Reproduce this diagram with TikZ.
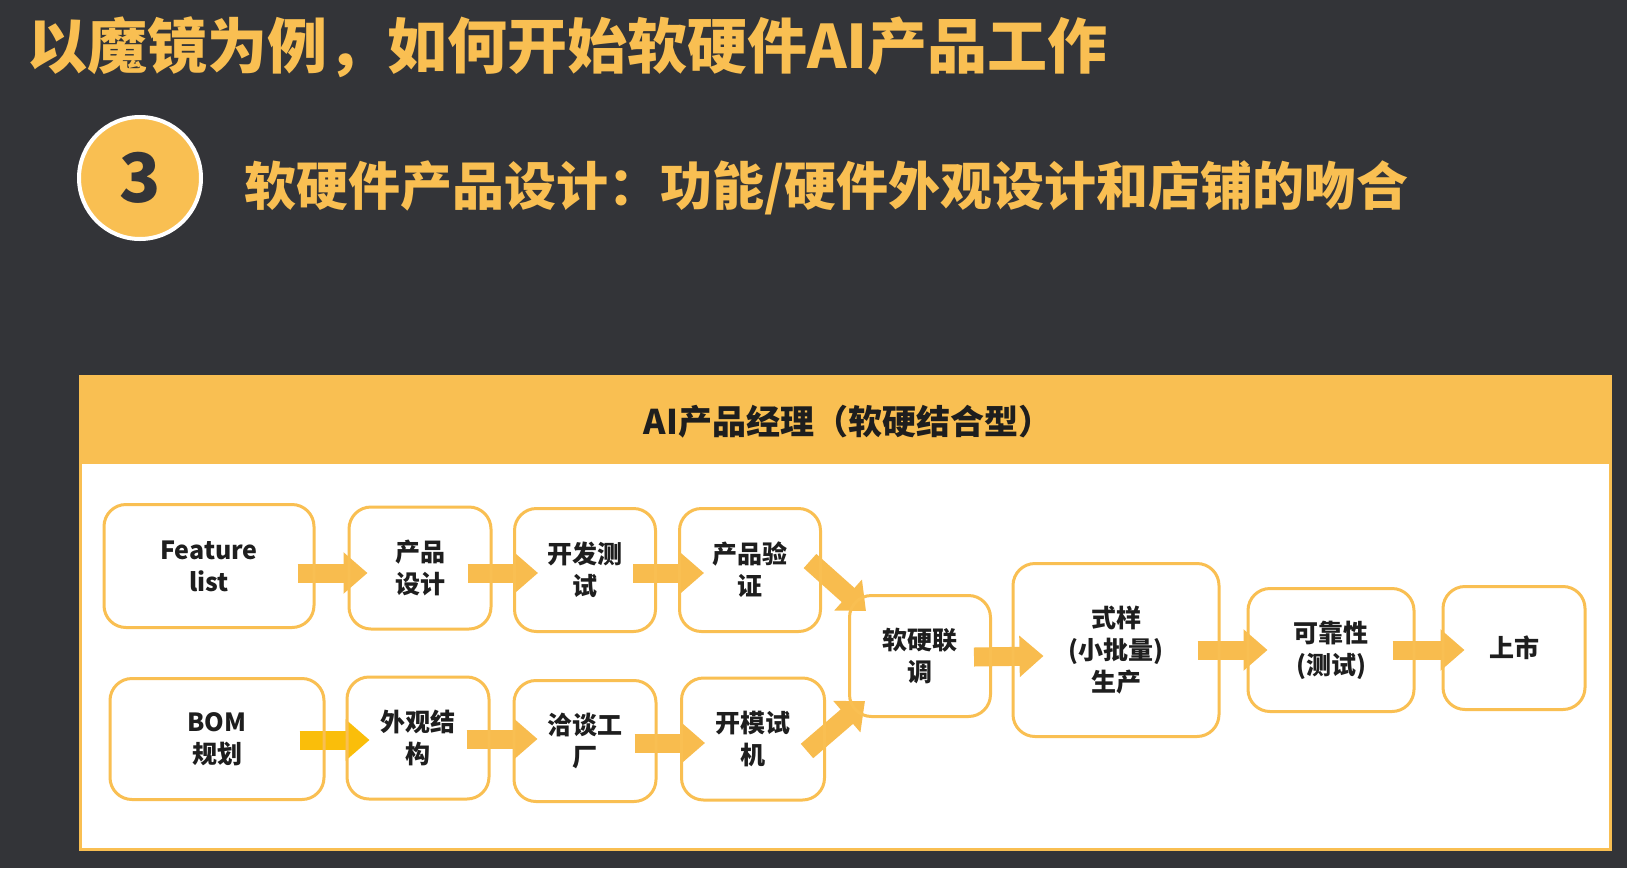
\documentclass[tikz,border=0pt]{standalone}
\usepackage{fontspec}
\setmainfont{Noto Sans CJK SC}
\usetikzlibrary{arrows.meta,calc}
\pgfdeclarelayer{bg}
\pgfsetlayers{bg,main}
\definecolor{slate}{HTML}{333438}
\definecolor{gold}{HTML}{F9BF52}
\definecolor{flowgold}{HTML}{F8BC4E}
\definecolor{bomgold}{HTML}{FABE0A}
\definecolor{ink}{HTML}{1E1E1E}
\tikzset{
  stage/.style={draw=gold, line width=3pt, rounded corners=22pt, align=center, text=ink,
    inner sep=0pt, font=\fontsize{25}{32}\selectfont\bfseries},
  flow/.style={flowgold, line width=19pt, -{Triangle[length=24pt,width=40pt]}},
}

\begin{document}
\begin{tikzpicture}[x=1pt,y=-1pt]
\begin{pgfonlayer}{bg}
\fill[slate] (0,0) rectangle (1627,868);
% panel
\draw[gold, line width=3pt, fill=white] (80,376) rectangle (1610,849);
\fill[gold] (80,376) rectangle (1610,464);
\end{pgfonlayer}
\useasboundingbox (0,0) rectangle (1627,868);

% headings
\node[anchor=west, inner sep=0pt, text=gold, font=\fontsize{60}{60}\selectfont\bfseries] (title) at (27,47) {以魔镜为例，如何开始软硬件AI产品工作};
\node[circle, draw=white, line width=4pt, fill=gold, minimum size=122pt, inner sep=0pt, text=slate,
  font=\fontsize{68}{68}\selectfont\bfseries] (num) at (140,178) {3};
\node[anchor=west, inner sep=0pt, text=gold, font=\fontsize{52}{52}\selectfont\bfseries] (subtitle) at (244,188) {软硬件产品设计：功能/硬件外观设计和店铺的吻合};
\node[text=ink, font=\fontsize{34}{34}\selectfont\bfseries] (head) at (848,422) {AI产品经理（软硬结合型）};

% software row
\node[stage, minimum width=210pt, minimum height=123pt] (feat) at (209,566) {Feature\\list};
\node[stage, minimum width=142pt, minimum height=122pt] (design) at (420,568) {产品\\设计};
\node[stage, minimum width=141pt, minimum height=123pt] (devtest) at (585,570) {开发测\\试};
\node[stage, minimum width=141pt, minimum height=123pt] (verify) at (750,570) {产品验\\证};
% hardware row
\node[stage, minimum width=214pt, minimum height=121pt] (bom) at (217,739) {BOM\\规划};
\node[stage, minimum width=142pt, minimum height=122pt] (look) at (418,738) {外观结\\构};
\node[stage, minimum width=142pt, minimum height=121pt] (factory) at (585,741) {洽谈工\\厂};
\node[stage, minimum width=143pt, minimum height=122pt] (mold) at (753,739) {开模试\\机};
% merged
\node[stage, minimum width=141pt, minimum height=121pt] (joint) at (920,656) {软硬联\\调};
\node[stage, minimum width=206pt, minimum height=173pt] (trial) at (1116,650) {式样\\(小批量)\\生产};
\node[stage, minimum width=166pt, minimum height=123pt] (reliab) at (1331,650) {可靠性\\(测试)};
\node[stage, minimum width=142pt, minimum height=123pt] (launch) at (1514,648) {上市};

\begin{pgfonlayer}{bg}
\draw[flow] ($(feat.east)+(-18,7)$) -- ($(design.west)+(20,5)$);
\draw[flow] ($(design.east)+(-25,5)$) -- ($(devtest.west)+(25,3)$);
\draw[flow] ($(devtest.east)+(-24,3)$) -- ($(verify.west)+(26,3)$);
\draw[flow, bomgold] ($(bom.east)+(-26,1)$) -- ($(look.west)+(24,2)$);
\draw[flow] ($(look.east)+(-24,1)$) -- ($(factory.west)+(25,-2)$);
\draw[flow] ($(factory.east)+(-23,2)$) -- ($(mold.west)+(25,4)$);
\draw[flow] ($(verify.east)+(-12,-9)$) -- ($(joint.west)+(18,-45)$);
\draw[flow] ($(mold.east)+(-19,12)$) -- ($(joint.west)+(17,45)$);
\draw[flow] ($(joint.east)+(-18,1)$) -- ($(trial.west)+(32,6)$);
\draw[flow] ($(trial.east)+(-23,0)$) -- ($(reliab.west)+(21,0)$);
\draw[flow] ($(reliab.east)+(-23,0)$) -- ($(launch.west)+(23,2)$);
\end{pgfonlayer}
\end{tikzpicture}
\end{document}
